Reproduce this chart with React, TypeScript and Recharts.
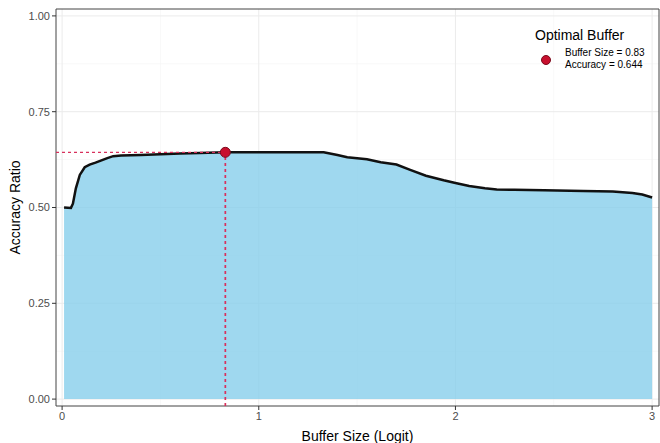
import React from "react";
import {
  ComposedChart,
  Area,
  Line,
  XAxis,
  YAxis,
  CartesianGrid,
  ReferenceDot,
  ReferenceArea,
  Label,
} from "recharts";

// values
const bufferSize = [
  0.01, 0.045, 0.055, 0.07, 0.09, 0.115, 0.14, 0.17, 0.2, 0.23, 0.26, 0.3,
  0.4, 0.5, 0.6, 0.7, 0.83, 1.0, 1.2, 1.33, 1.4, 1.45, 1.55, 1.62, 1.7, 1.77,
  1.85, 1.94, 2.0, 2.07, 2.15, 2.21, 2.3, 2.45, 2.65, 2.8, 2.9, 2.95, 3.0,
];
const accuracy = [
  0.5, 0.499, 0.51, 0.55, 0.585, 0.605, 0.612, 0.617, 0.623, 0.629, 0.634,
  0.636, 0.637, 0.639, 0.641, 0.642, 0.644, 0.644, 0.644, 0.644, 0.637, 0.631,
  0.626, 0.618, 0.612, 0.598, 0.583, 0.571, 0.564, 0.556, 0.55, 0.547, 0.546,
  0.545, 0.543, 0.542, 0.538, 0.534, 0.526,
];
const xTicks = [0, 1, 2, 3];
const xMinor = [0.5, 1.5, 2.5];
const yTicks = [0, 0.25, 0.5, 0.75, 1];
const yMinor = [0.125, 0.375, 0.625, 0.875];
const optimalSize = 0.83;
const optimalAccuracy = 0.644;

const xDomain: [number, number] = [-0.031, 3.035];
const yDomain: [number, number] = [-0.018, 1.018];

const data = bufferSize.map((x, i) => ({ x, y: accuracy[i] }));
// dashed guides to the optimum, from the panel edges
const hGuide = [
  { x: xDomain[0], g: optimalAccuracy },
  { x: optimalSize, g: optimalAccuracy },
];
const vGuide = [
  { x: optimalSize, g: yDomain[0] },
  { x: optimalSize, g: optimalAccuracy },
];

const FONT = "'Liberation Sans', Arial, sans-serif";
const RED = "#C8102E";
const DASH = "#D8305C";

const App: React.FC = () => {
  return (
    <div
      style={{
        position: "absolute",
        left: 0,
        top: 0,
        width: 660,
        height: 443,
        background: "#fff",
        fontFamily: FONT,
      }}
    >
      <ComposedChart
        width={660}
        height={443}
        data={data}
        margin={{ top: 9, right: 1, bottom: 0, left: 0 }}
      >
        <CartesianGrid
          stroke="#F4F4F4"
          strokeWidth={0.6}
          verticalValues={xMinor}
          horizontalValues={yMinor}
        />
        <CartesianGrid
          stroke="#EBEBEB"
          strokeWidth={1}
          verticalValues={xTicks}
          horizontalValues={yTicks}
        />
        <XAxis
          type="number"
          dataKey="x"
          domain={xDomain}
          ticks={xTicks}
          allowDataOverflow
          height={37}
          axisLine={false}
          tickSize={4}
          tickLine={{ stroke: "#333", strokeWidth: 1 }}
          tick={{ fill: "#4D4D4D", fontSize: 11, fontFamily: FONT }}
        >
          <Label
            value="Buffer Size (Logit)"
            position="insideBottom"
            offset={2}
            style={{ fill: "#000", fontSize: 14, fontFamily: FONT }}
          />
        </XAxis>
        <YAxis
          type="number"
          domain={yDomain}
          ticks={yTicks}
          allowDataOverflow
          width={56}
          axisLine={false}
          tickSize={4}
          tickLine={{ stroke: "#333", strokeWidth: 1 }}
          tickFormatter={(v: number) => v.toFixed(2)}
          tick={{ fill: "#4D4D4D", fontSize: 11, fontFamily: FONT }}
        >
          <Label
            value="Accuracy Ratio"
            angle={-90}
            position="insideLeft"
            offset={15}
            style={{
              fill: "#000",
              fontSize: 14,
              fontFamily: FONT,
              textAnchor: "middle",
            }}
          />
        </YAxis>
        <Area
          type="linear"
          dataKey="y"
          stroke="#111"
          strokeWidth={2.5}
          fill="#87CEEB"
          fillOpacity={0.8}
          isAnimationActive={false}
          dot={false}
          activeDot={false}
        />
        <Line
          data={hGuide}
          dataKey="g"
          type="linear"
          stroke={DASH}
          strokeDasharray="3 3"
          strokeWidth={1.3}
          dot={false}
          activeDot={false}
          isAnimationActive={false}
        />
        <Line
          data={vGuide}
          dataKey="g"
          type="linear"
          stroke={DASH}
          strokeDasharray="3 3"
          strokeWidth={1.7}
          dot={false}
          activeDot={false}
          isAnimationActive={false}
        />
        <ReferenceDot
          x={optimalSize}
          y={optimalAccuracy}
          r={5}
          fill={RED}
          stroke="#7A0A1C"
          strokeWidth={1}
        />
        <ReferenceArea
          x1={xDomain[0]}
          x2={xDomain[1]}
          y1={yDomain[0]}
          y2={yDomain[1]}
          fill="none"
          fillOpacity={0}
          stroke="#444"
          strokeWidth={1}
        />
      </ComposedChart>
      {/* legend */}
      <div
        style={{
          position: "absolute",
          left: 535,
          top: 26,
          fontSize: 14,
          color: "#000",
          lineHeight: "18px",
        }}
      >
        Optimal Buffer
      </div>
      <div
        style={{
          position: "absolute",
          left: 541,
          top: 55,
          width: 10,
          height: 10,
          borderRadius: "50%",
          background: RED,
          boxSizing: "border-box",
          border: "1px solid #7A0A1C",
        }}
      />
      <div
        style={{
          position: "absolute",
          left: 565,
          top: 47,
          fontSize: 10,
          color: "#000",
          lineHeight: "12px",
        }}
      >
        <div>Buffer Size = {optimalSize}</div>
        <div>Accuracy = {optimalAccuracy}</div>
      </div>
    </div>
  );
};

export default App;
